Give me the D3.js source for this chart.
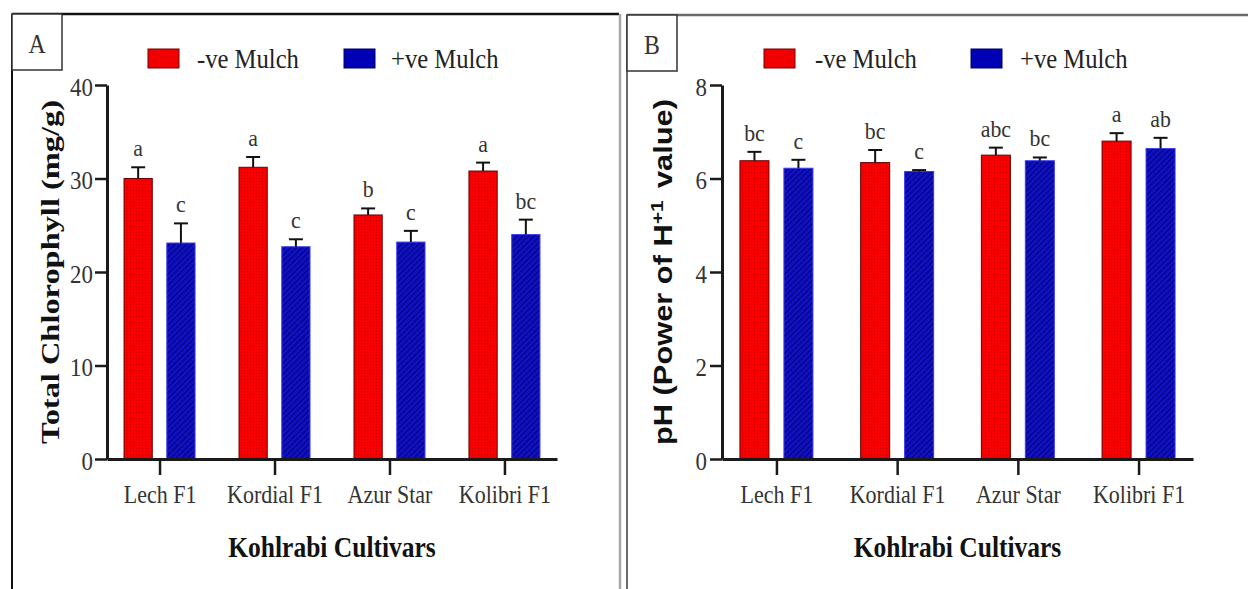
<!DOCTYPE html>
<html>
<head>
<meta charset="utf-8">
<script src="https://cdn.jsdelivr.net/npm/d3@7"></script>
<style>
  body { margin: 0; background: #fff; }
  svg { display: block; }
</style>
</head>
<body>
<script>
// cultivars and series
const cultivars = ["Lech F1", "Kordial F1", "Azur Star", "Kolibri F1"];
const seriesNames = ["-ve Mulch", "+ve Mulch"];

// panel A: total chlorophyll (mg/g)
const chlNoMulch = [30.0, 31.2, 26.1, 30.8];
const chlNoMulchErr = [1.2, 1.1, 0.7, 0.9];
const chlMulch = [23.1, 22.7, 23.2, 24.0];
const chlMulchErr = [2.1, 0.8, 1.2, 1.6];
const chlNoMulchLetters = ["a", "a", "b", "a"];
const chlMulchLetters = ["c", "c", "c", "bc"];
const chlTicks = [0, 10, 20, 30, 40];

// panel B: pH
const phNoMulch = [6.38, 6.34, 6.5, 6.8];
const phNoMulchErr = [0.19, 0.27, 0.16, 0.17];
const phMulch = [6.22, 6.15, 6.38, 6.64];
const phMulchErr = [0.18, 0.03, 0.07, 0.23];
const phNoMulchLetters = ["bc", "bc", "abc", "a"];
const phMulchLetters = ["c", "c", "bc", "ab"];
const phTicks = [0, 2, 4, 6, 8];

const SX = 0.88; // the figure is a bit squeezed sideways
const serif = "'Liberation Serif', 'Times New Roman', serif";
const sans = "'Liberation Sans', Arial, sans-serif";

const svg = d3.select("body").append("svg").attr("width", 1248).attr("height", 589);

const defs = svg.append("defs");
const pr = defs.append("pattern").attr("id", "redfill").attr("patternUnits", "userSpaceOnUse")
  .attr("width", 3).attr("height", 3);
pr.append("rect").attr("width", 3).attr("height", 3).attr("fill", "#f80000");
pr.append("rect").attr("x", 1).attr("y", 1).attr("width", 1).attr("height", 1).attr("fill", "#cc0000");
const pb = defs.append("pattern").attr("id", "bluefill").attr("patternUnits", "userSpaceOnUse")
  .attr("width", 4).attr("height", 4).attr("patternTransform", "rotate(45)");
pb.append("rect").attr("width", 4).attr("height", 4).attr("fill", "#1212bc");
pb.append("rect").attr("width", 1.2).attr("height", 4).attr("fill", "#000090");

const fills = ["url(#redfill)", "url(#bluefill)"];
const strokes = ["#6a0000", "#3a3aee"];
const swatch = ["#f00000", "#0000b4"];

function txt(g, x, y, s, size, opts = {}) {
  return g.append("text")
    .attr("transform", `translate(${x},${y}) scale(${opts.sx || SX},1)`)
    .attr("text-anchor", opts.anchor || "start")
    .style("font-family", opts.family || serif)
    .style("font-size", size + "px")
    .style("font-weight", opts.weight || "normal")
    .attr("fill", opts.fill || "#222")
    .text(s);
}

function drawPanel(p) {
  const g = svg.append("g");

  // frame + letter box
  g.append("line").attr("x1", p.frame.x).attr("x2", p.frame.x2).attr("y1", p.frame.y).attr("y2", p.frame.y)
    .attr("stroke", p.frame.color).attr("stroke-width", 2.5);
  g.append("line").attr("x1", p.frame.x).attr("x2", p.frame.x).attr("y1", p.frame.y).attr("y2", 589)
    .attr("stroke", p.frame.color).attr("stroke-width", 2);
  g.append("rect").attr("x", p.frame.x).attr("y", p.frame.y).attr("width", 50).attr("height", 56)
    .attr("fill", "#fff").attr("stroke", "#333").attr("stroke-width", 1.5);
  txt(g, p.frame.x + 25, p.frame.y + 39, p.tag, 27, { anchor: "middle", fill: "#333" });

  // legend
  p.legend.forEach((l, i) => {
    g.append("rect").attr("x", l.x).attr("y", 49).attr("width", 31).attr("height", 19)
      .attr("fill", swatch[i]).attr("stroke", i ? "#000060" : "#700000").attr("stroke-width", 1);
    txt(g, l.tx, 68, seriesNames[i], 28);
  });

  const y = d3.scaleLinear().domain(p.yDomain).range([459, 85]);
  const x = d3.scalePoint().domain(cultivars).range(p.xRange).padding(p.pad);
  const xSub = d3.scaleBand().domain([0, 1]).range([-p.half, p.half]).paddingInner(0.34);

  // bars, error bars, letters
  p.series.forEach((s, si) => {
    const gs = g.append("g");
    const rows = cultivars.map((c, i) => ({ c, v: s.values[i], e: s.err[i], t: s.letters[i] }));
    const cx = (d) => x(d.c) + xSub(si) + xSub.bandwidth() / 2;
    gs.selectAll("rect").data(rows).join("rect")
      .attr("x", (d) => x(d.c) + xSub(si))
      .attr("width", xSub.bandwidth())
      .attr("y", (d) => y(d.v))
      .attr("height", (d) => y(0) - y(d.v))
      .attr("fill", fills[si]).attr("stroke", strokes[si]).attr("stroke-width", 1);
    gs.selectAll("line.eb").data(rows).join("line").attr("class", "eb")
      .attr("x1", cx).attr("x2", cx).attr("y1", (d) => y(d.v)).attr("y2", (d) => y(d.v + d.e))
      .attr("stroke", "#111").attr("stroke-width", 2);
    gs.selectAll("line.cap").data(rows).join("line").attr("class", "cap")
      .attr("x1", (d) => cx(d) - 7).attr("x2", (d) => cx(d) + 7)
      .attr("y1", (d) => y(d.v + d.e)).attr("y2", (d) => y(d.v + d.e))
      .attr("stroke", "#111").attr("stroke-width", 2);
    rows.forEach((d) => txt(gs, cx(d), y(d.v + d.e) - 11, d.t, 23, { anchor: "middle", sx: 0.95, fill: "#333" }));
  });

  // axes
  const ya = g.append("g").attr("transform", `translate(${p.xRange[0]},0)`)
    .call(d3.axisLeft(y).tickValues(p.ticks).tickSize(12).tickSizeOuter(0));
  ya.select(".domain").attr("stroke", "#1a1a1a").attr("stroke-width", 3);
  ya.selectAll(".tick line").attr("stroke", "#1a1a1a").attr("stroke-width", 2.5);
  ya.selectAll(".tick text").attr("x", p.tickX).attr("dy", "0.4em")
    .attr("transform", `scale(${SX},1)`)
    .style("font-family", serif).style("font-size", "26px").attr("fill", "#333");

  const xa = g.append("g").attr("transform", "translate(0,459)")
    .call(d3.axisBottom(x).tickSize(16).tickSizeOuter(0));
  xa.select(".domain").attr("stroke", "#1a1a1a").attr("stroke-width", 3);
  xa.selectAll(".tick line").attr("stroke", "#1a1a1a").attr("stroke-width", 2.5);
  xa.selectAll(".tick text").attr("y", 44).attr("dy", 0)
    .attr("transform", `scale(${SX},1)`)
    .style("font-family", serif).style("font-size", "25px").attr("fill", "#333");

  // axis titles
  const cxAxis = (p.xRange[0] + p.xRange[1]) / 2;
  txt(g, cxAxis, 557, "Kohlrabi Cultivars", 29, { anchor: "middle", weight: "bold", fill: "#111" });

  const yt = g.append("text")
    .attr("transform", `translate(${p.yTitle.x},272) rotate(-90)`)
    .attr("text-anchor", "middle")
    .attr("textLength", p.yTitle.len).attr("lengthAdjust", "spacingAndGlyphs")
    .style("font-family", p.yTitle.family).style("font-size", p.yTitle.size + "px")
    .style("font-weight", "bold").attr("fill", "#111");
  p.yTitle.parts.forEach((part) => {
    const ts = yt.append("tspan").text(part.t);
    if (part.sup) ts.attr("dy", -9).style("font-size", "17px");
    if (part.dx) ts.attr("dx", part.dx);
    if (part.down) ts.attr("dy", 9);
  });
}

drawPanel({
  tag: "A",
  frame: { x: 12, y: 14, x2: 619, color: "#111" },
  legend: [{ x: 148, tx: 197 }, { x: 344, tx: 391 }],
  yDomain: [0, 40], ticks: chlTicks,
  xRange: [107, 557], pad: 0.457, half: 35.5, tickX: -16,
  series: [
    { values: chlNoMulch, err: chlNoMulchErr, letters: chlNoMulchLetters },
    { values: chlMulch, err: chlMulchErr, letters: chlMulchLetters }
  ],
  yTitle: { x: 59, len: 344, size: 25, family: serif, parts: [{ t: "Total Chlorophyll (mg/g)" }] }
});

drawPanel({
  tag: "B",
  frame: { x: 627, y: 15, x2: 1248, color: "#6a6a6a" },
  legend: [{ x: 764, tx: 815 }, { x: 971, tx: 1020 }],
  yDomain: [0, 8], ticks: phTicks,
  xRange: [722, 1193], pad: 0.451, half: 36.5, tickX: -17,
  series: [
    { values: phNoMulch, err: phNoMulchErr, letters: phNoMulchLetters },
    { values: phMulch, err: phMulchErr, letters: phMulchLetters }
  ],
  yTitle: { x: 672, len: 346, size: 25, family: sans,
    parts: [{ t: "pH (Power of H" }, { t: "+1", sup: true }, { t: "value)", dx: 10, down: true }] }
});

// right edge of panel A
svg.append("line").attr("x1", 620).attr("x2", 620).attr("y1", 14).attr("y2", 589)
  .attr("stroke", "#a8a8a8").attr("stroke-width", 2.5);
</script>
</body>
</html>
